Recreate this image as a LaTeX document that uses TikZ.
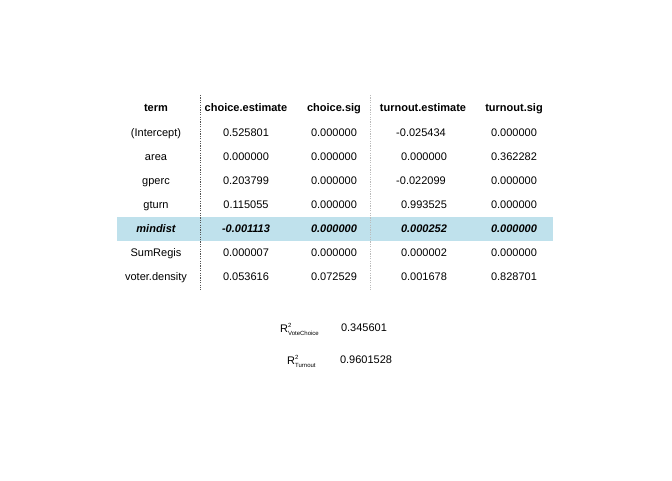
\documentclass[tikz,border=0pt]{standalone}
\usepackage{fontspec}
\setmainfont{Liberation Sans}
\definecolor{hilite}{HTML}{BFE1EC}
\definecolor{rulegray}{HTML}{555555}
\definecolor{lightrule}{HTML}{BBBBBB}
\begin{document}
\begin{tikzpicture}[x=1pt,y=-1pt,
	thin,cell/.style = {inner sep = 0pt, text height=8.5pt, text depth=1pt, font=\fontsize{11}{13}\selectfont},
	head/.style = {cell, font=\fontsize{11}{13}\selectfont\bfseries},
	hi/.style = {cell, font=\fontsize{11}{13}\selectfont\bfseries\itshape},
	sepline/.style = {rulegray, dash pattern=on 1.2pt off 1.2pt},
	lightline/.style = {lightrule, dash pattern=on 1.2pt off 1.2pt}]
	\useasboundingbox (0,0) rectangle (672,480);
	
	% highlighted row
	\fill[hilite] (117,216.5) rectangle (553,240.5);
	
	\node[head] at (156,108) (h1) {term};
	\node[head] at (246,108) (h2) {choice.estimate};
	\node[head] at (334,108) (h3) {choice.sig};
	\node[head] at (423,108) (h4) {turnout.estimate};
	\node[head] at (514,108) (h5) {turnout.sig};
	
	\node[cell] at (156,133) (a1) {(Intercept)};
	\node[cell] at (246,133) (a2) {0.525801};
	\node[cell] at (334,133) (a3) {0.000000};
	\node[cell] at (421,133) (a4) {-0.025434};
	\node[cell] at (514,133) (a5) {0.000000};
	
	\node[cell] at (156,157) (b1) {area};
	\node[cell] at (246,157) (b2) {0.000000};
	\node[cell] at (334,157) (b3) {0.000000};
	\node[cell] at (424,157) (b4) {0.000000};
	\node[cell] at (514,157) (b5) {0.362282};
	
	\node[cell] at (156,181) (c1) {gperc};
	\node[cell] at (246,181) (c2) {0.203799};
	\node[cell] at (334,181) (c3) {0.000000};
	\node[cell] at (421,181) (c4) {-0.022099};
	\node[cell] at (514,181) (c5) {0.000000};
	
	\node[cell] at (156,205) (d1) {gturn};
	\node[cell] at (246,205) (d2) {0.115055};
	\node[cell] at (334,205) (d3) {0.000000};
	\node[cell] at (424,205) (d4) {0.993525};
	\node[cell] at (514,205) (d5) {0.000000};
	
	\node[hi] at (156,229) (e1) {mindist};
	\node[hi] at (246,229) (e2) {-0.001113};
	\node[hi] at (334,229) (e3) {0.000000};
	\node[hi] at (424,229) (e4) {0.000252};
	\node[hi] at (514,229) (e5) {0.000000};
	
	\node[cell] at (156,253) (f1) {SumRegis};
	\node[cell] at (246,253) (f2) {0.000007};
	\node[cell] at (334,253) (f3) {0.000000};
	\node[cell] at (424,253) (f4) {0.000002};
	\node[cell] at (514,253) (f5) {0.000000};
	
	\node[cell] at (156,277) (g1) {voter.density};
	\node[cell] at (246,277) (g2) {0.053616};
	\node[cell] at (334,277) (g3) {0.072529};
	\node[cell] at (424,277) (g4) {0.001678};
	\node[cell] at (514,277) (g5) {0.828701};
	
	% column separators
	\coordinate (s1) at (200,95);
	\coordinate (s2) at (200,290);
	\coordinate (t1) at (370,95);
	\coordinate (t2) at (370,290);
	\draw[sepline] (s1) -- (s2);
	\draw[lightline] (t1) -- (t2);
	
	% fit statistics
	\node[anchor=base west,inner sep=0pt,font=\fontsize{11}{13}\selectfont] at (280,332) (r1) {R\rlap{\raisebox{5pt}{\fontsize{6}{7}\selectfont 2}}\raisebox{-3.5pt}{\fontsize{6}{7}\selectfont VoteChoice}};
	\node[cell] at (364,328) (v1) {0.345601};
	\node[anchor=base west,inner sep=0pt,font=\fontsize{11}{13}\selectfont] at (287,364) (r2) {R\rlap{\raisebox{5pt}{\fontsize{6}{7}\selectfont 2}}\raisebox{-3.5pt}{\fontsize{6}{7}\selectfont Turnout}};
	\node[cell] at (366,360) (v2) {0.9601528};
\end{tikzpicture}
\end{document}
